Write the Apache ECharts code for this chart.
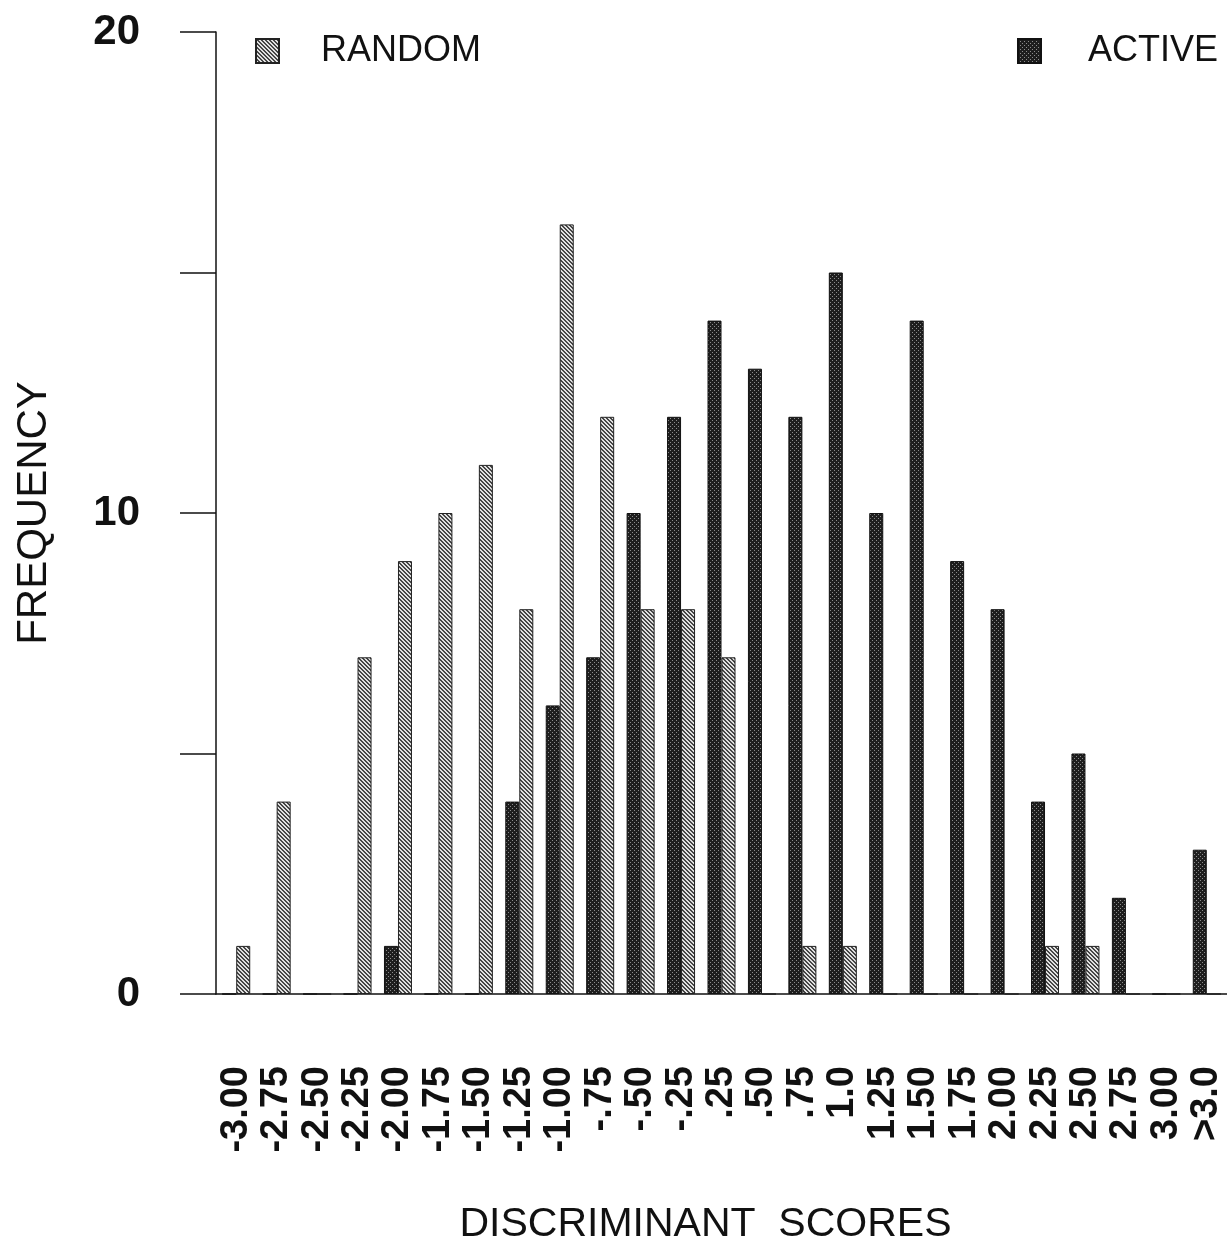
<!DOCTYPE html>
<html>
<head>
<meta charset="utf-8">
<script src="https://cdn.jsdelivr.net/npm/echarts@6/dist/echarts.min.js"></script>
<style>
html,body{margin:0;padding:0;background:#fff;}
#chart{width:1227px;height:1252px;}
</style>
</head>
<body>
<div id="chart"></div>
<script>
const categories = ['-3.00','-2.75','-2.50','-2.25','-2.00','-1.75','-1.50','-1.25','-1.00','-.75','-.50','-.25','.25','.50','.75','1.0','1.25','1.50','1.75','2.00','2.25','2.50','2.75','3.00','>3.0'];
const randomValues = [1,4,0,7,9,10,11,8,16,12,8,8,7,0,1,1,0,0,0,0,1,1,0,0,0];
const activeValues = [0,0,0,0,1,0,0,4,6,7,10,12,14,13,12,15,10,14,9,8,4,5,2,0,3];
const yTickLabels = ['0','10','20'];

function makeHatch() {
  const c = document.createElement('canvas');
  c.width = 4; c.height = 4;
  const ctx = c.getContext('2d');
  const img = ctx.createImageData(4, 4);
  for (let y = 0; y < 4; y++) for (let x = 0; x < 4; x++) {
    const d = ((x - y) % 4 + 4) % 4;
    const v = (d === 0 || d === 1) ? 70 : 225;
    const i = (y * 4 + x) * 4;
    img.data[i] = v; img.data[i+1] = v; img.data[i+2] = v; img.data[i+3] = 255;
  }
  ctx.putImageData(img, 0, 0);
  return c;
}
function makeDots() {
  const c = document.createElement('canvas');
  c.width = 4; c.height = 4;
  const ctx = c.getContext('2d');
  const img = ctx.createImageData(4, 4);
  for (let y = 0; y < 4; y++) for (let x = 0; x < 4; x++) {
    const light = (x === 0 && y === 0) || (x === 2 && y === 2);
    const v = light ? 140 : 30;
    const i = (y * 4 + x) * 4;
    img.data[i] = v; img.data[i+1] = v; img.data[i+2] = v; img.data[i+3] = 255;
  }
  ctx.putImageData(img, 0, 0);
  return c;
}

const FONT = "'Liberation Sans', Arial, Helvetica, sans-serif";

const chart = echarts.init(document.getElementById('chart'), null, {renderer: 'canvas'});
chart.setOption({
  backgroundColor: '#ffffff',
  animation: false,
  legend: [
    {
      data: ['RANDOM'], left: 255, top: 33, padding: 0, icon: 'rect', itemWidth: 23, itemHeight: 24,
      textStyle: {fontFamily: FONT, fontSize: 36, color: '#111', padding: [0,0,0,37]}
    },
    {
      data: ['ACTIVE'], left: 1017, top: 33, padding: 0, icon: 'rect', itemWidth: 23, itemHeight: 24,
      textStyle: {fontFamily: FONT, fontSize: 36, color: '#111', padding: [0,0,0,42]}
    }
  ],
  grid: {left: 216, right: 0, top: 32, bottom: 258, containLabel: false},
  xAxis: {
    type: 'category',
    data: categories,
    boundaryGap: true,
    name: 'DISCRIMINANT  SCORES',
    nameLocation: 'middle',
    nameGap: 210,
    nameTextStyle: {fontFamily: FONT, fontSize: 41, color: '#111', padding: [0, 32, 0, 0]},
    axisLine: {lineStyle: {color: '#111', width: 1.5}},
    axisTick: {alignWithLabel: true, length: 36, lineStyle: {color: '#222', width: 1}},
    axisLabel: {rotate: 90, margin: 72, interval: 0, fontFamily: FONT, fontSize: 38, fontWeight: 'bold', color: '#111'},
    splitLine: {show: false}
  },
  yAxis: {
    type: 'value',
    min: 0, max: 20, interval: 5,
    name: 'FREQUENCY',
    nameLocation: 'middle',
    nameGap: 161,
    nameRotate: 90,
    nameTextStyle: {fontFamily: FONT, fontSize: 42, color: '#111'},
    axisLine: {show: true, lineStyle: {color: '#111', width: 1.5}},
    axisTick: {show: true, inside: false, length: 36, lineStyle: {color: '#111', width: 1.5}},
    axisLabel: {
      margin: 76, fontFamily: FONT, fontSize: 42, fontWeight: 'bold', color: '#111',
      formatter: function (v) { return yTickLabels.indexOf(String(v)) >= 0 ? String(v) : ''; }
    },
    splitLine: {show: false}
  },
  series: [
    {
      name: 'ACTIVE', type: 'bar', data: activeValues, barWidth: 14, barGap: '0%',
      itemStyle: {color: {image: makeDots(), repeat: 'repeat'}, borderColor: '#111', borderWidth: 1}
    },
    {
      name: 'RANDOM', type: 'bar', data: randomValues, barWidth: 14, barGap: '0%',
      itemStyle: {color: {image: makeHatch(), repeat: 'repeat'}, borderColor: '#222', borderWidth: 1}
    }
  ]
});
</script>
</body>
</html>
